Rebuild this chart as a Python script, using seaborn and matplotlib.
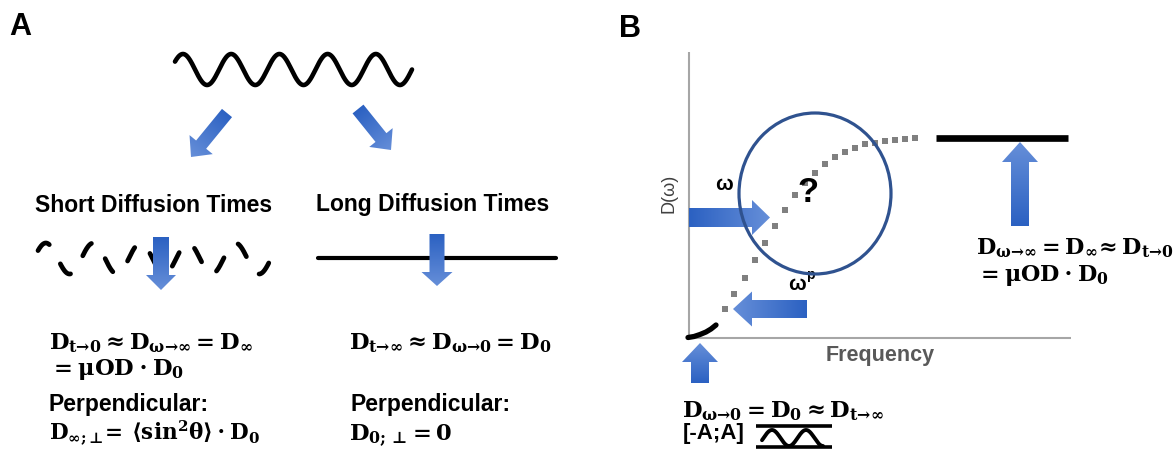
import numpy as np
import matplotlib
matplotlib.use("Agg")
import matplotlib.pyplot as plt
from matplotlib.patches import Polygon, Ellipse
import seaborn as sns

# ---------------- data ----------------
panel_labels = ["A", "B"]
regime_titles = ["Short Diffusion Times", "Long Diffusion Times"]
formula_short = [r"$D_{t→0} \approx D_{\omega→\infty} = D_{\infty}$",
                 r"$= \mu OD \cdot D_0$"]
formula_long = [r"$D_{t→\infty} \approx D_{\omega→0} = D_0$"]
perp_title = "Perpendicular:"
perp_short = r"$D_{\infty{;}⊥}\!=\,\langle\sin^2\!\theta\rangle\cdot D_0$"
perp_long = r"$D_{0{;}\,⊥} = 0$"
formula_high = [r"$D_{\omega→\infty} = D_{\infty}\!\approx D_{t→0}$",
                r"$= \mu OD \cdot D_0$"]
formula_low = r"$D_{\omega→0} = D_0 \approx D_{t→\infty}$"
gradient_label = "[-A;A]"
axis_x_label = "Frequency"
axis_y_label = "D(ω)"
omega_label = "ω"
omega_p_label = ["ω", "p"]
question = "?"

# D(omega) schematic curve (frequency, D) in canvas units
curve_freq = [725, 734, 745, 755, 765, 775, 785, 795, 805, 815, 825, 835,
              845, 855, 865, 875, 885, 895, 905, 915]
curve_D = [309, 294, 278, 260, 243, 226, 210, 195, 183, 173, 164, 157,
           152, 148, 144, 143, 141, 140, 139, 138]
low_freq_arc_x = [688, 694, 700, 706, 711, 716]
low_freq_arc_y = [337.5, 336.5, 334.5, 332, 329, 325]

# wave icon: number of cycles (phase start / end)
wave_phase = (-0.165, 4.75)

# ---------------- style ----------------
sns.set_theme(style="white")
plt.rcParams["font.family"] = ["Liberation Sans", "DejaVu Sans"]
plt.rcParams["text.color"] = "black"
plt.rcParams["mathtext.fontset"] = "custom"
plt.rcParams["mathtext.rm"] = "DejaVu Serif:bold"
plt.rcParams["mathtext.it"] = "DejaVu Serif:bold"
plt.rcParams["mathtext.bf"] = "DejaVu Serif:bold"
plt.rcParams["mathtext.sf"] = "DejaVu Serif:bold"
plt.rcParams["lines.scale_dashes"] = False

fig = plt.figure(figsize=(11.75, 4.49), dpi=100)
ax = fig.add_axes([0, 0, 1, 1])
ax.set_xlim(0, 1175)
ax.set_ylim(449, 0)
ax.axis("off")

C0 = np.array([0.17, 0.38, 0.76])
C1 = np.array([0.40, 0.56, 0.85])


def grad_arrow(tail, tip, sw, hw, hl, z=5):
    tail = np.asarray(tail, float)
    tip = np.asarray(tip, float)
    d = tip - tail
    L = np.hypot(*d)
    u = d / L
    n = np.array([-u[1], u[0]])
    base = tip - u * hl
    pts = np.array([tail + n * sw / 2, base + n * sw / 2, base + n * hw / 2, tip,
                    base - n * hw / 2, base - n * sw / 2, tail - n * sw / 2])
    poly = Polygon(pts, closed=True, facecolor="none", edgecolor="none", zorder=z)
    ax.add_patch(poly)
    xmin, ymin = pts.min(axis=0) - 1
    xmax, ymax = pts.max(axis=0) + 1
    X, Y = np.meshgrid(np.linspace(xmin, xmax, 120), np.linspace(ymin, ymax, 120))
    t = np.clip(((X - tail[0]) * u[0] + (Y - tail[1]) * u[1]) / L, 0, 1)
    img = C0[None, None, :] * (1 - t[..., None]) + C1[None, None, :] * t[..., None]
    im = ax.imshow(img, extent=[xmin, xmax, ymax, ymin], origin="upper",
                   interpolation="bilinear", aspect="auto", zorder=z)
    im.set_clip_path(poly)


def wave(x0, x1, yc, amp, lw, dashed=False):
    ph = np.linspace(wave_phase[0], wave_phase[1], 600)
    x = x0 + (ph - ph[0]) / (ph[-1] - ph[0]) * (x1 - x0)
    y = yc - amp * np.cos(2 * np.pi * ph)
    if dashed:
        ln, = ax.plot(x, y, color="black", lw=lw, solid_capstyle="round",
                      dash_capstyle="round", zorder=3)
        ln.set_dashes((11, 16))
    else:
        sns.lineplot(x=x, y=y, ax=ax, color="black", lw=lw, sort=False,
                     estimator=None, zorder=3)


# ---------------- panel A ----------------
ax.text(9, 27, panel_labels[0], fontsize=22, fontweight="bold", va="center", ha="left")
wave(175, 412, 69.5, 15.5, 3.3)
grad_arrow((227, 113), (191, 157), 13, 30, 16)
grad_arrow((358, 109), (391, 150), 14, 30, 16)
ax.text(35, 205, regime_titles[0], fontsize=16.5, fontweight="bold", va="center", ha="left")
ax.text(316, 205, regime_titles[1], fontsize=16.5, fontweight="bold", va="center", ha="left")

wave(38, 271, 258.5, 15.5, 3.4, dashed=True)
ax.plot([318, 556], [257.5, 257.5], color="black", lw=3.0, zorder=3)
grad_arrow((161, 237), (161, 290), 16, 30, 15)
grad_arrow((437, 234), (437, 286), 15, 31, 14)

FS = 16.3
ax.text(49, 349, formula_short[0], fontsize=FS, va="baseline", ha="left")
ax.text(49, 375, formula_short[1], fontsize=FS, va="baseline", ha="left")
ax.text(48, 405, perp_title, fontsize=16.5, fontweight="bold", va="center", ha="left")
ax.text(49, 440, perp_short, fontsize=FS - 0.8, va="baseline", ha="left")
ax.text(349, 349, formula_long[0], fontsize=FS, va="baseline", ha="left")
ax.text(350, 405, perp_title, fontsize=16.5, fontweight="bold", va="center", ha="left")
ax.text(349, 440, perp_long, fontsize=FS, va="baseline", ha="left")

# ---------------- panel B ----------------
ax.text(619, 29, panel_labels[1], fontsize=22, fontweight="bold", va="center", ha="left")
ax.plot([689, 689], [52, 338], color="#a6a6a6", lw=1.5, zorder=2, solid_capstyle="butt")
ax.plot([689, 1071], [337.5, 337.5], color="#a6a6a6", lw=1.5, zorder=2, solid_capstyle="butt")
ax.text(669, 193, axis_y_label, fontsize=13, color="#404040", rotation=90,
        va="center", ha="center")
ax.text(880, 356, axis_x_label, fontsize=15.5, fontweight="bold", color="#595959",
        va="center", ha="center")

sns.scatterplot(x=curve_freq, y=curve_D, ax=ax, marker="s", s=16, color="#808080",
                linewidth=0, zorder=4)
sns.lineplot(x=low_freq_arc_x, y=low_freq_arc_y, ax=ax, color="black", lw=3.8,
             sort=False, estimator=None, zorder=4)
ax.plot([936, 1068], [137.5, 137.5], color="black", lw=4.8, solid_capstyle="butt", zorder=3)

grad_arrow((689, 217.5), (770, 217.5), 19, 35, 18, z=5)
grad_arrow((807, 309), (733, 309), 18, 35, 19, z=5)
grad_arrow((1020, 226), (1020, 142), 18, 36, 20, z=5)
grad_arrow((700, 383), (700, 343), 18, 36, 19, z=5)

ax.add_patch(Ellipse((815, 193.5), 152, 161, fill=False, edgecolor="#2f528f", lw=2.3, zorder=6))
ax.text(808, 192, question, fontsize=25, fontweight="bold", va="center", ha="center", zorder=7)
ax.text(724, 184, omega_label, fontsize=15, fontweight="bold", va="center", ha="center")
ax.text(797, 284, omega_p_label[0], fontsize=15, fontweight="bold", va="center", ha="center")
ax.text(806, 275, omega_p_label[1], fontsize=10, fontweight="bold", va="center", ha="left")

ax.text(976, 254, formula_high[0], fontsize=FS - 0.3, va="baseline", ha="left")
ax.text(976, 281, formula_high[1], fontsize=FS - 0.3, va="baseline", ha="left")
ax.text(682, 417, formula_low, fontsize=FS, va="baseline", ha="left")
ax.text(683, 434, gradient_label, fontsize=16, fontweight="bold", va="center", ha="left")

# gradient waveform icon
ax.plot([756, 832], [426, 426], color="black", lw=2.6, solid_capstyle="butt")
ax.plot([756, 832], [447, 447], color="black", lw=2.6, solid_capstyle="butt")
gx = np.linspace(762, 823, 200)
gy = 438 - 8 * np.cos(2 * np.pi * (gx - 772) / 34)
ax.plot(gx, gy, color="black", lw=2.8)

ax.set_xlim(0, 1175)
ax.set_ylim(449, 0)
fig.savefig("out.png", dpi=100, facecolor="white")
